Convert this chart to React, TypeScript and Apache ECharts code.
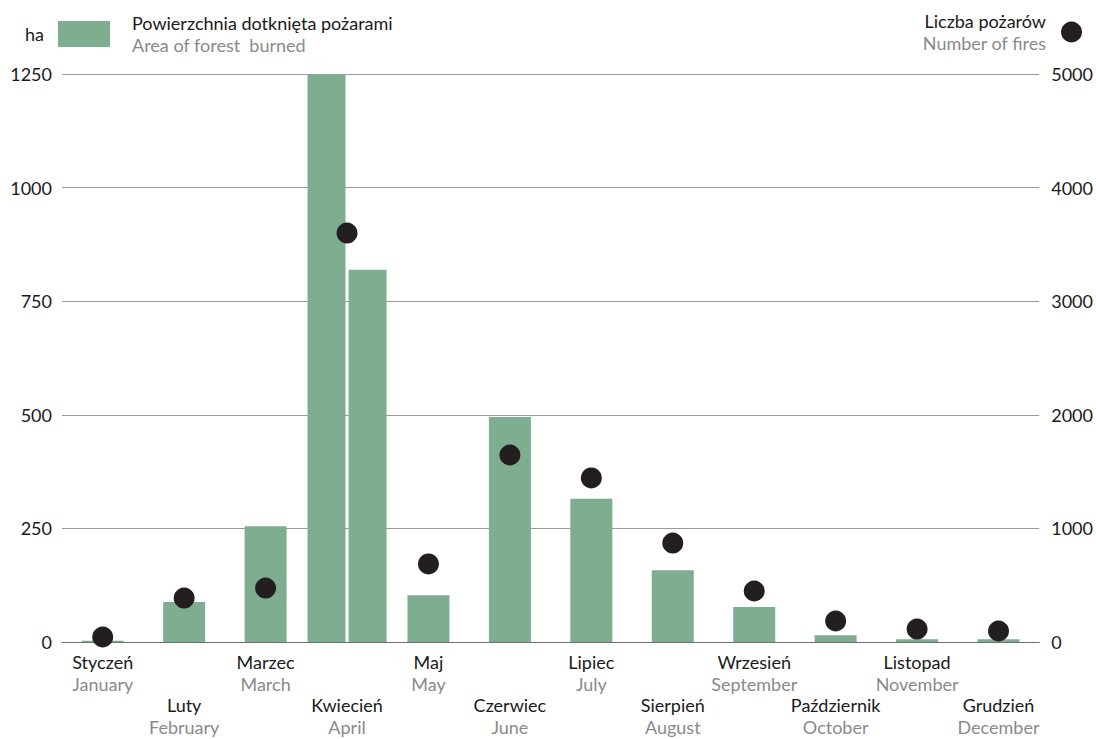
import React, { useEffect, useRef } from "react";
import * as echarts from "echarts";

const monthsPl = ["Styczeń", "Luty", "Marzec", "Kwiecień", "Maj", "Czerwiec", "Lipiec", "Sierpień", "Wrzesień", "Październik", "Listopad", "Grudzień"];
const monthsEn = ["January", "February", "March", "April", "May", "June", "July", "August", "September", "October", "November", "December"];
// area burned (ha); April drawn as a split (broken) bar
const areaBurned = [3, 88, 255, null, 103, 495, 315, 158, 77, 15, 6, 6];
const aprilPartA = [null, null, null, 1250, null, null, null, null, null, null, null, null];
const aprilPartB = [null, null, null, 819, null, null, null, null, null, null, null, null];
const numberOfFires = [44, 387, 475, 3600, 687, 1646, 1444, 871, 449, 185, 114, 97];
const leftTicks = [0, 250, 500, 750, 1000, 1250];
const rightTicks = [0, 1000, 2000, 3000, 4000, 5000];

const GREEN = "#7fad8f";
const DOT = "#231f20";
const FONT = "Lato";
const FS = 18;

export default function App() {
  const ref = useRef<HTMLDivElement>(null);
  useEffect(() => {
    const chart = echarts.init(ref.current!, null, { renderer: "svg" });
    const cats = monthsPl.map((_, i) => i);
    chart.setOption({
      animation: false,
      textStyle: { fontFamily: FONT },
      grid: { left: 62, right: 56, top: 74, bottom: 97, containLabel: false },
      legend: [
        {
          data: ["area"],
          left: 58,
          top: 14,
          padding: 0,
          itemWidth: 52,
          itemHeight: 26,
          icon: "rect",
          formatter: () => "{a|Powierzchnia dotknięta pożarami}\n{b|Area of forest  burned}",
          textStyle: {
            padding: [0, 0, 0, 17],
            rich: {
              a: { fontSize: FS, color: "#1a1a1a", lineHeight: 22, fontFamily: FONT },
              b: { fontSize: FS, color: "#8a8a8a", lineHeight: 22, fontFamily: FONT },
            },
          },
        },
        {
          data: ["fires"],
          right: 14,
          top: 12,
          padding: 0,
          align: "right",
          itemWidth: 21,
          itemHeight: 21,
          icon: "circle",
          formatter: () => "{a|Liczba pożarów}\n{b|Number of fires}",
          textStyle: {
            padding: [0, 10, 0, 0],
            rich: {
              a: { fontSize: FS, color: "#1a1a1a", lineHeight: 22, align: "right", fontFamily: FONT },
              b: { fontSize: FS, color: "#8a8a8a", lineHeight: 22, align: "right", fontFamily: FONT },
            },
          },
        },
      ],
      xAxis: [
        {
          type: "category",
          data: cats,
          axisTick: { show: false },
          axisLine: { show: true, lineStyle: { color: "#707070", width: 1 } },
          axisLabel: {
            interval: 0,
            margin: 9,
            formatter: (v: any, i: number) => {
              const s = `{pl|${monthsPl[i]}}\n{en|${monthsEn[i]}}`;
              return i % 2 === 0 ? s : `{sp|}\n{sp|}\n${s}`;
            },
            rich: {
              pl: { fontSize: FS, color: "#1a1a1a", lineHeight: 22, fontFamily: FONT },
              en: { fontSize: FS, color: "#8a8a8a", lineHeight: 22.5, fontFamily: FONT },
              sp: { fontSize: FS, lineHeight: 21.5 },
            },
          },
        },
        { type: "category", data: cats, show: false },
      ],
      yAxis: [
        {
          type: "value",
          min: 0,
          max: 1250,
          interval: 250,
          name: "ha",
          nameLocation: "end",
          nameGap: 31,
          nameTextStyle: { fontSize: FS, color: "#1a1a1a", align: "right", padding: [0, 18, 0, 0], fontFamily: FONT },
          axisLine: { show: false },
          axisTick: { show: false },
          axisLabel: { fontSize: FS, color: "#1a1a1a", margin: 10, fontFamily: FONT, formatter: (v: number) => (leftTicks.includes(v) ? String(v) : "") },
          splitLine: { show: true, lineStyle: { color: "#9a9a9a", width: 1 } },
        },
        {
          type: "value",
          min: 0,
          max: 5000,
          interval: 1000,
          axisLine: { show: false },
          axisTick: { show: false },
          axisLabel: { fontSize: FS, color: "#1a1a1a", margin: 12, fontFamily: FONT, formatter: (v: number) => (rightTicks.includes(v) ? String(v) : "") },
          splitLine: { show: false },
        },
      ],
      series: [
        {
          name: "area",
          type: "bar",
          xAxisIndex: 0,
          yAxisIndex: 0,
          data: areaBurned,
          barWidth: 42,
          itemStyle: { color: GREEN },
        },
        {
          name: "aprilA",
          type: "bar",
          xAxisIndex: 1,
          yAxisIndex: 0,
          data: aprilPartA,
          barWidth: 38,
          barGap: "8%",
          itemStyle: { color: GREEN },
        },
        {
          name: "aprilB",
          type: "bar",
          xAxisIndex: 1,
          yAxisIndex: 0,
          data: aprilPartB,
          barWidth: 38,
          barGap: "8%",
          itemStyle: { color: GREEN },
        },
        {
          name: "fires",
          type: "scatter",
          xAxisIndex: 0,
          yAxisIndex: 1,
          data: numberOfFires,
          symbolSize: 21,
          z: 5,
          itemStyle: { color: DOT, opacity: 1 },
        },
      ],
    });
    return () => chart.dispose();
  }, []);
  return <div ref={ref} style={{ position: "absolute", left: 0, top: 0, width: 1096, height: 739 }} />;
}
